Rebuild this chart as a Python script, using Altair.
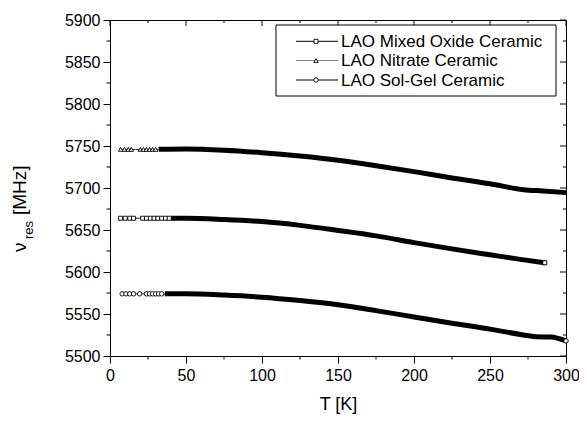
import altair as alt
import pandas as pd

FONT = "Liberation Sans"

series_names = ["LAO Mixed Oxide Ceramic", "LAO Nitrate Ceramic", "LAO Sol-Gel Ceramic"]

# LAO Nitrate Ceramic (triangles)
nit_sparse_T = [7, 9.5, 12, 14, 20, 22, 24, 26, 28, 30]
nit_sparse_v = [5746, 5746, 5746, 5746, 5746, 5746, 5746, 5746, 5746, 5746]
nit_T = [32, 50, 75, 100, 125, 150, 175, 200, 225, 250, 272, 285, 300]
nit_v = [5746, 5746.5, 5745, 5742, 5738, 5733, 5726.5, 5719.5, 5712, 5705, 5698, 5696.5, 5694.5]

# LAO Mixed Oxide Ceramic (squares)
mix_sparse_T = [7, 10, 13, 15.5, 21.5, 24, 26.5, 29, 31.5, 34, 36.5, 39]
mix_sparse_v = [5664, 5664, 5664, 5664, 5664, 5664, 5664, 5664, 5664, 5664, 5664, 5664]
mix_T = [40, 50, 75, 100, 125, 150, 175, 200, 225, 250, 270, 286]
mix_v = [5664, 5664, 5662.5, 5660, 5655.5, 5649.5, 5643, 5635, 5627.5, 5620.5, 5615, 5611]

# LAO Sol-Gel Ceramic (circles)
sol_sparse_T = [8, 10.5, 13, 15.5, 19.5, 24, 26, 28, 30, 32, 34]
sol_sparse_v = [5574, 5574, 5574, 5574, 5574, 5574, 5574, 5574, 5574, 5574, 5574]
sol_T = [36, 50, 75, 100, 125, 150, 175, 200, 225, 250, 272, 280, 290, 300]
sol_v = [5574, 5574, 5572.5, 5570, 5566, 5561, 5554, 5546.5, 5539, 5532, 5525, 5523, 5522.5, 5518]

x_major = [0, 50, 100, 150, 200, 250, 300]
x_minor = [25, 75, 125, 175, 225, 275]
y_major = [5500, 5550, 5600, 5650, 5700, 5750, 5800, 5850, 5900]
y_minor = [5525, 5575, 5625, 5675, 5725, 5775, 5825, 5875]

W, H = 456, 336
PL = 102
PT = 12

xs = alt.Scale(domain=[0, 300], nice=False, zero=False)
ys = alt.Scale(domain=[5500, 5900], nice=False, zero=False)
xaxis = alt.Axis(values=x_major, tickSize=7, tickColor="black", domainColor="black",
                 labelFontSize=16, labelFont=FONT, labelColor="black", labelPadding=4,
                 title="T [K]", titleFontSize=18, titleFont=FONT, titleFontWeight="normal",
                 titleColor="black", titlePadding=12, grid=False, labelFlush=False)
yaxis = alt.Axis(values=y_major, tickSize=7, tickColor="black", domainColor="black",
                 labelFontSize=16, labelFont=FONT, labelColor="black", labelPadding=3,
                 title=None, grid=False, format="d", labelFlush=False)
X = alt.X("T:Q", scale=xs, axis=xaxis)
Y = alt.Y("v:Q", scale=ys, axis=yaxis)

shapes = {"LAO Mixed Oxide Ceramic": "square", "LAO Nitrate Ceramic": "triangle-up",
          "LAO Sol-Gel Ceramic": "circle"}
msize = {"square": 16, "triangle-up": 20, "circle": 20}

series = [
    ("LAO Nitrate Ceramic", nit_sparse_T, nit_sparse_v, nit_T, nit_v, False),
    ("LAO Mixed Oxide Ceramic", mix_sparse_T, mix_sparse_v, mix_T, mix_v, True),
    ("LAO Sol-Gel Ceramic", sol_sparse_T, sol_sparse_v, sol_T, sol_v, True),
]

layers = []
for name, sT, sv, dT, dv, endmark in series:
    shp = shapes[name]
    thin = pd.DataFrame({"T": sT + [dT[0]], "v": sv + [dv[0]]})
    dense = pd.DataFrame({"T": dT, "v": dv})
    sparse = pd.DataFrame({"T": sT, "v": sv})
    layers.append(alt.Chart(thin).mark_line(color="black", strokeWidth=0.8).encode(x=X, y=Y))
    layers.append(alt.Chart(dense).mark_line(color="black", strokeWidth=5, strokeJoin="round",
                                             strokeCap="butt", interpolate="monotone")
                  .encode(x=X, y=Y))
    layers.append(alt.Chart(sparse).mark_point(shape=shp, size=msize[shp], filled=True, fill="white",
                                               stroke="black", strokeWidth=0.9, opacity=1)
                  .encode(x=X, y=Y))
    if endmark:
        last = pd.DataFrame({"T": [dT[-1]], "v": [dv[-1]]})
        layers.append(alt.Chart(last).mark_point(shape=shp, size=msize[shp], filled=True, fill="white",
                                                 stroke="black", strokeWidth=1, opacity=1)
                      .encode(x=X, y=Y))

# minor / mirrored ticks
def rules_x(vals, y0, y1):
    return alt.Chart(pd.DataFrame({"T": vals})).mark_rule(color="black", strokeWidth=1).encode(
        x=X, y=alt.value(y0), y2=alt.value(y1))

def rules_y(vals, x0, x1):
    return alt.Chart(pd.DataFrame({"v": vals})).mark_rule(color="black", strokeWidth=1).encode(
        y=Y, x=alt.value(x0), x2=alt.value(x1))

layers += [
    rules_x(x_minor, H, H + 3.5),
    rules_x(x_major, 0, 6),
    rules_x(x_minor, 0, 3),
    rules_y(y_minor, -3.5, 0),
    rules_y(y_major, W - 6, W),
    rules_y(y_minor, W - 3, W),
]

# legend
LX = W - 290
box = alt.Chart(pd.DataFrame({"a": [0]})).mark_rect(fill="white", stroke="black", strokeWidth=1).encode(
    x=alt.value(LX), x2=alt.value(LX + 280), y=alt.value(5), y2=alt.value(76))
layers.append(box)
row_y = [21.3, 40.5, 60]
for i, name in enumerate(series_names):
    yy = row_y[i]
    col = "#888888" if name == "LAO Nitrate Ceramic" else "black"
    one = pd.DataFrame({"name": [name]})
    layers.append(alt.Chart(one).mark_rule(color=col, strokeWidth=1).encode(
        x=alt.value(LX + 20), x2=alt.value(LX + 62), y=alt.value(yy)))
    shp = shapes[name]
    layers.append(alt.Chart(one).mark_point(shape=shp, size=msize[shp], filled=True, fill="white",
                                            stroke="black", strokeWidth=0.9, opacity=1).encode(
        x=alt.value(LX + 40), y=alt.value(yy)))
    layers.append(alt.Chart(one).mark_text(align="left", baseline="middle", font=FONT, fontSize=17,
                                           color="black").encode(
        x=alt.value(LX + 65), y=alt.value(yy + 0.5), text="name:N"))

# y-axis title with subscript
layers.append(alt.Chart(pd.DataFrame({"t": ["ν"]})).mark_text(
    angle=270, align="left", baseline="alphabetic", font=FONT, fontSize=19, color="black").encode(
    x=alt.value(-84), y=alt.value(232), text="t:N"))
layers.append(alt.Chart(pd.DataFrame({"t": ["res"]})).mark_text(
    angle=270, align="left", baseline="alphabetic", font=FONT, fontSize=13, color="black").encode(
    x=alt.value(-77), y=alt.value(219), text="t:N"))
layers.append(alt.Chart(pd.DataFrame({"t": ["[MHz]"]})).mark_text(
    angle=270, align="left", baseline="alphabetic", font=FONT, fontSize=19, color="black").encode(
    x=alt.value(-84), y=alt.value(195), text="t:N"))

chart = alt.layer(*layers).properties(
    width=W, height=H,
    autosize=alt.AutoSizeParams(type="none"),
    padding={"left": PL, "top": PT, "right": 571 - PL - W, "bottom": 408 - PT - H},
    background="white",
).configure_view(stroke="black", strokeWidth=1)

chart.save("out.html", embed_options={"renderer": "svg", "actions": False})
